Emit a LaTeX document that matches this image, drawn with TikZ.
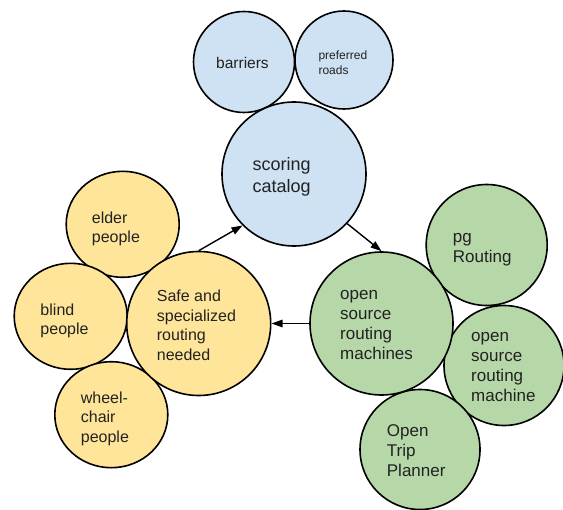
\documentclass[tikz,border=0pt]{standalone}
\usepackage{fontspec}
\setmainfont{Liberation Sans}
\usetikzlibrary{arrows.meta,shapes.geometric}
\definecolor{cblue}{HTML}{CFE2F3}
\definecolor{cgreen}{HTML}{B6D7A8}
\definecolor{cyellow}{HTML}{FFE599}
\definecolor{ctext}{HTML}{222222}
\begin{document}
\begin{tikzpicture}[x=1bp,y=-1bp,
  bubble/.style={draw=black, line width=1.6bp, circle, inner sep=0pt, minimum size=#1},
  oval/.style={draw=black, line width=1.6bp, ellipse, inner sep=0pt, fill=cyellow,
               minimum width=113bp, minimum height=106bp},
  lbl/.style={anchor=west, inner sep=0pt, align=left, text=ctext},
  fsA/.style={font=\fontsize{18bp}{22bp}\selectfont},
  fsB/.style={font=\fontsize{17bp}{20bp}\selectfont},
  fsC/.style={font=\fontsize{16bp}{19.5bp}\selectfont},
  conn/.style={line width=1.4bp, draw=black, -{Triangle[length=11bp,width=7.5bp]}}
]
\useasboundingbox (0,0) rectangle (563,510);

% blue
\node[bubble=101bp, fill=cblue] (barriers) at (244,62) {};
\node[bubble=98bp, fill=cblue] (roads) at (344,60) {};
\node[bubble=144bp, fill=cblue] (scoring) at (294,174) {};

% green
\node[bubble=121bp, fill=cgreen] (pg) at (486.7,245) {};
\node[bubble=120bp, fill=cgreen] (osrmb) at (504,365.5) {};
\node[bubble=120bp, fill=cgreen] (otp) at (420,449.5) {};
\node[bubble=143bp, fill=cgreen] (osrm) at (381.5,323.5) {};

% yellow
\node[oval] (elder) at (122.7,224.3) {};
\node[oval] (blind) at (70.7,316.3) {};
\node[oval] (wheel) at (111.3,414.7) {};
\node[bubble=144bp, fill=cyellow] (safe) at (198.7,323.5) {};

% labels
\node[lbl, font=\fontsize{15.5bp}{18bp}\selectfont] (tbarriers) at (216,62.5) {barriers};
\node[lbl, font=\fontsize{12bp}{15.7bp}\selectfont] (troads) at (318.3,62.7) {preferred\\roads};
\node[lbl, fsA] (tscoring) at (252.3,176.5) {scoring\\catalog};
\node[lbl, fsB] (tpg) at (452.7,249.2) {pg\\Routing};
\node[lbl, fsB] (tosrm) at (340,325.5) {open\\source\\routing\\machines};
\node[lbl, fsB] (tosrmb) at (471,367.3) {open\\source\\routing\\machine};
\node[lbl, fsB] (totp) at (386.7,451) {Open\\Trip\\Planner};
\node[lbl, fsC] (telder) at (91.7,228.7) {elder\\people};
\node[lbl, fsC] (tblind) at (40.3,320.8) {blind\\people};
\node[lbl, fsC] (twheel) at (80.7,418.7) {wheel-\\chair\\people};
\node[lbl, fsC] (tsafe) at (156.7,325.5) {Safe and\\specialized\\routing\\needed};

% connectors
\draw[conn] (safe.north) -- (scoring.225);
\draw[conn] (scoring.317) -- (osrm.north);
\draw[conn] (osrm.west) -- (safe.east);
\end{tikzpicture}
\end{document}
